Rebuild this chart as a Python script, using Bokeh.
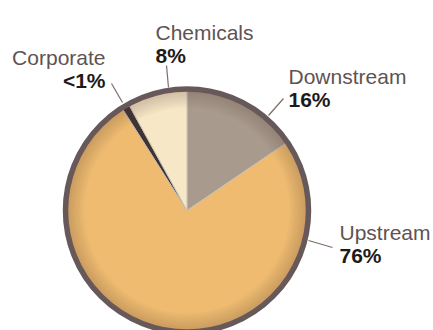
import math
from bokeh.plotting import figure
from bokeh.models import Range1d, ColumnDataSource
from bokeh.core.properties import value
from bokeh.embed import file_html
from bokeh.resources import INLINE

# ---- data ----
segments = ["Downstream", "Upstream", "Corporate", "Chemicals"]
shares = [15.5, 75.5, 1.0, 8.0]
pct_labels = ["16%", "76%", "<1%", "8%"]
colors = ["#a89a8d", "#eebb70", "#3f3434", "#f6e7c6"]

W, H = 433, 330
p = figure(width=W, height=H, output_backend="svg", toolbar_location=None,
           x_range=Range1d(0, W), y_range=Range1d(0, H), min_border=0)
p.axis.visible = False
p.grid.visible = False
p.outline_line_color = None
p.background_fill_color = "white"

cx, cy, r = 186.5, H - 210, 121

total = sum(shares)
starts, ends = [], []
acc = 0.0
for s in shares:
    starts.append(math.pi / 2 - 2 * math.pi * acc / total)
    acc += s
    ends.append(math.pi / 2 - 2 * math.pi * acc / total)

src = ColumnDataSource(dict(seg=segments, start=starts, end=ends, color=colors))
p.wedge(x=cx, y=cy, radius=r, start_angle="start", end_angle="end",
        direction="clock", fill_color="color", line_color="#c9beb2",
        line_width=1, source=src)

# subtle edge shading
for k in range(8):
    p.annulus(x=cx, y=cy, inner_radius=r - 18 + k * 2.2, outer_radius=r,
              fill_color="#5a4030", fill_alpha=0.03, line_color=None)

# outer ring
p.circle(x=cx, y=cy, radius=r + 0.5, fill_color=None, line_color="#675959",
         line_width=5.5)

# labels (layout)
lab_x = [288, 339, 105, 155]
lab_y = [76, 232, 57, 32]
lab_align = ["left", "left", "right", "left"]
gap = 23
lead = [((283, 98), (268, 115)), ((332, 247), (308, 240)),
        ((111, 83), (122, 102)), ((166, 65), (168, 87))]

for i in range(len(segments)):
    p.text(x=[lab_x[i]], y=[H - lab_y[i]], text=[segments[i]],
           text_font=value("Liberation Sans"), text_font_size="21px",
           text_color="#5e5353", text_align=lab_align[i],
           text_baseline="alphabetic")
    p.text(x=[lab_x[i]], y=[H - lab_y[i] - gap], text=[pct_labels[i]],
           text_font=value("Liberation Sans"), text_font_size="21px",
           text_font_style="bold", text_color="#1e1a1a",
           text_align=lab_align[i], text_baseline="alphabetic")
    (x0, y0), (x1, y1) = lead[i]
    p.segment(x0=[x0], y0=[H - y0], x1=[x1], y1=[H - y1],
              line_color="#7d6e66", line_width=1.2)

open("out.html", "w").write(file_html(p, INLINE))
